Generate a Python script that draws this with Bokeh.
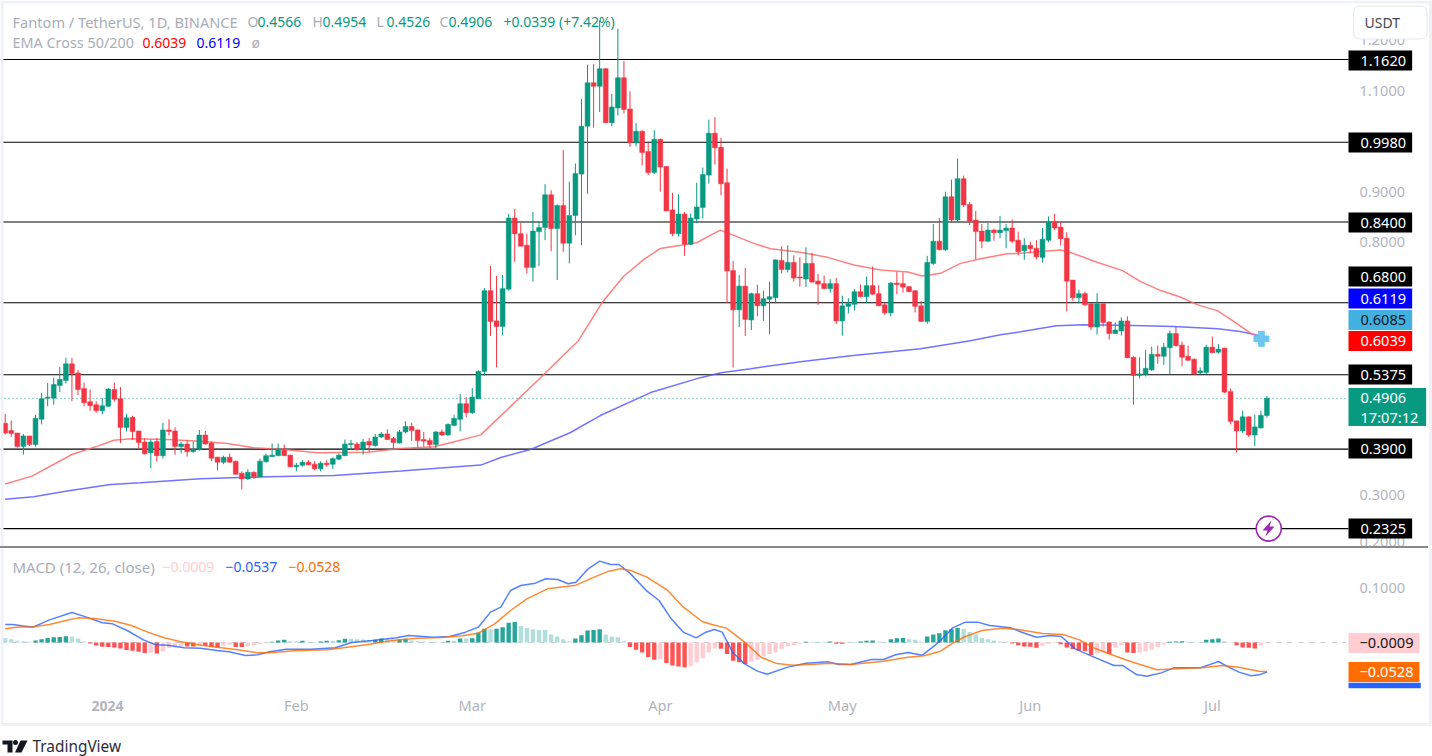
from bokeh.plotting import figure
from bokeh.layouts import column
from bokeh.models import (ColumnDataSource, FixedTicker, Label, NumeralTickFormatter,
                          Range1d, Spacer)
from bokeh.embed import file_html
from bokeh.resources import INLINE

opens = [.441,.427,.422,.395,.416,.399,.449,.491,.491,.516,
.526,.559,.541,.510,.484,.478,.466,.475,.508,.490,
.433,.453,.426,.404,.383,.405,.377,.428,.426,.395,
.400,.385,.389,.418,.402,.374,.364,.374,.366,.342,
.331,.344,.335,.365,.375,.377,.389,.378,.355,.358,
.364,.360,.351,.362,.360,.370,.377,.399,.400,.389,
.405,.397,.414,.420,.411,.402,.424,.435,.428,.409,
.407,.399,.424,.418,.437,.449,.480,.462,.490,.544,
.704,.644,.633,.707,.848,.817,.794,.750,.821,.829,
.894,.827,.873,.798,.853,.935,1.030,1.116,1.109,1.144,
1.037,1.066,1.126,1.064,.997,1.020,.980,.938,1.004,.950,
.864,.817,.856,.796,.846,.869,.933,1.016,.988,.918,
.744,.666,.713,.646,.698,.674,.687,.690,.764,.746,
.760,.731,.727,.758,.723,.718,.708,.718,.644,.673,
.677,.702,.692,.714,.698,.676,.660,.719,.718,.712,
.704,.674,.643,.758,.802,.785,.890,.844,.926,.875,
.844,.822,.802,.824,.819,.823,.828,.804,.783,.794,
.788,.770,.804,.839,.830,.808,.725,.690,.698,.678,
.632,.678,.642,.619,.624,.644,.572,.536,.538,.547,
.578,.574,.591,.619,.596,.574,.568,.541,.542,.592,
.582,.590,.504,.446,.426,.454,.418,.432,.4566]

highs = [.460,.447,.422,.420,.416,.458,.501,.521,.531,.553,
.571,.571,.547,.522,.508,.485,.491,.511,.522,.513,
.460,.456,.426,.412,.409,.412,.442,.449,.433,.404,
.408,.405,.428,.426,.405,.375,.377,.381,.367,.346,
.350,.346,.371,.381,.401,.401,.399,.379,.363,.368,
.368,.366,.366,.368,.373,.381,.409,.408,.404,.410,
.412,.420,.424,.429,.414,.428,.445,.442,.429,.424,
.412,.426,.429,.441,.458,.500,.493,.511,.546,.709,
.753,.733,.735,.856,.866,.838,.817,.860,.840,.915,
.903,.875,.983,.920,.956,1.084,1.152,1.153,1.240,1.145,
1.094,1.223,1.159,1.099,1.036,1.022,.997,1.022,1.005,.950,
.898,.895,.860,.857,.918,.948,1.043,1.048,1.007,.946,
.763,.735,.749,.700,.716,.704,.721,.766,.792,.794,
.774,.770,.790,.779,.737,.734,.727,.729,.694,.689,
.707,.716,.732,.752,.715,.680,.721,.741,.740,.713,
.705,.684,.773,.836,.848,.900,.924,.966,.932,.880,
.862,.836,.838,.827,.852,.836,.845,.821,.808,.801,
.804,.828,.851,.856,.840,.820,.725,.706,.702,.679,
.699,.678,.643,.641,.651,.653,.574,.572,.587,.593,
.595,.600,.625,.632,.603,.595,.570,.552,.597,.613,
.598,.591,.510,.446,.466,.455,.458,.466,.4954]

lows = [.419,.414,.393,.379,.396,.395,.439,.475,.478,.503,
.520,.485,.497,.475,.466,.462,.459,.473,.484,.402,
.425,.408,.392,.379,.352,.365,.371,.417,.379,.381,
.375,.383,.387,.399,.366,.348,.360,.363,.340,.310,
.329,.331,.335,.363,.374,.376,.376,.354,.346,.355,
.358,.348,.346,.355,.351,.368,.376,.388,.387,.379,
.385,.395,.412,.408,.389,.401,.421,.406,.393,.395,
.388,.389,.416,.416,.435,.425,.453,.460,.489,.535,
.614,.552,.616,.704,.761,.792,.738,.722,.753,.804,
.782,.725,.781,.758,.814,.794,.896,1.027,1.058,1.036,
1.030,1.051,1.055,.989,.990,.952,.933,.935,.900,.862,
.812,.811,.773,.794,.838,.847,.916,.954,.893,.680,
.552,.632,.614,.626,.653,.644,.618,.679,.738,.740,
.722,.712,.711,.720,.676,.707,.700,.638,.615,.659,
.665,.691,.679,.696,.674,.656,.653,.697,.700,.701,
.661,.642,.638,.755,.784,.783,.838,.838,.870,.834,
.766,.788,.801,.803,.808,.788,.798,.774,.765,.778,
.766,.760,.800,.824,.793,.663,.684,.679,.674,.626,
.617,.633,.607,.618,.615,.570,.478,.530,.534,.545,
.559,.557,.539,.593,.554,.565,.538,.539,.539,.580,
.579,.501,.439,.383,.422,.414,.396,.431,.4526]

closes = [.422,.421,.395,.416,.399,.451,.490,.493,.518,.528,
.559,.540,.508,.482,.476,.466,.476,.509,.489,.433,
.452,.425,.403,.381,.404,.377,.428,.425,.395,.400,
.385,.389,.418,.400,.372,.364,.374,.364,.340,.331,
.344,.335,.366,.377,.378,.389,.377,.355,.358,.364,
.359,.351,.362,.359,.371,.378,.400,.401,.389,.404,
.398,.414,.420,.409,.403,.424,.435,.427,.407,.406,
.399,.424,.418,.439,.451,.480,.462,.493,.544,.704,
.643,.633,.708,.848,.817,.792,.750,.822,.829,.894,
.827,.873,.798,.853,.936,1.030,1.116,1.109,1.144,1.037,
1.068,1.126,1.063,.997,1.020,.978,.938,1.004,.949,.862,
.817,.856,.796,.848,.870,.934,1.016,.987,.916,.743,
.666,.713,.647,.698,.674,.688,.692,.765,.746,.760,
.729,.729,.758,.721,.717,.708,.718,.644,.674,.678,
.702,.692,.714,.697,.674,.660,.719,.716,.711,.702,
.673,.643,.760,.802,.785,.890,.844,.926,.874,.842,
.821,.802,.824,.819,.824,.828,.802,.781,.794,.787,
.771,.806,.839,.828,.807,.723,.690,.698,.676,.632,
.678,.641,.619,.626,.644,.571,.536,.539,.550,.578,
.574,.592,.619,.595,.572,.566,.539,.545,.592,.581,
.588,.503,.445,.426,.454,.418,.434,.457,.4906]

ema50_day = [0,4.4,11,14.9,17.9,20.7,26.7,32.2,36.6,41,45.9,51.5,59.7,65.2,70.7,73.4,78.4,87.9,93.2,94.4,
98.5,102,105.3,108,111.9,114,116.3,117.9,120,123.4,126.2,131.1,135.6,139.9,144.3,148.8,151.2,154.2,157.5,
160.8,165.2,167.3,170.2,174,175.6,180,184.2,187.2,190.5,193.8,196.6,199.9,202.5,205.3,208]
ema50 = [.321,.3365,.3793,.3945,.4077,.4103,.4090,.4057,.4011,.3925,.3892,.3826,.3840,.3912,.3945,.4024,.4182,.5274,.5900,.6032,
.6822,.7330,.7659,.7877,.7949,.7989,.8140,.8239,.8140,.7977,.7871,.7799,.7700,.7548,.7450,.7410,.7331,.7384,.7581,
.7674,.7773,.7779,.7813,.7846,.7799,.7602,.7437,.7219,.7042,.6910,.6758,.6640,.6429,.6198,.6039]

ema200_day = [0,4.7,10.2,17.4,22.3,32.2,43.2,54.2,65.2,78.4,81.7,86.6,93.2,98.1,106.4,114.6,118,122.9,131.1,139.4,147.6,
150.9,159.1,164.1,167.4,173.3,177.8,186,192.6,199.9,203.6,208]
ema200 = [.2904,.2956,.3069,.3200,.3233,.3312,.3352,.3378,.3464,.3583,.3735,.3893,.4229,.4565,.5020,.5316,.5415,.5494,.5632,.5751,.5850,
.5889,.6047,.6166,.6225,.6344,.6364,.6350,.6330,.6285,.6231,.6119]

macd_day = [0,1.2,4.6,7.3,11,13.4,16,17.7,20.1,22.8,24.8,26.8,29.5,32.2,34.9,36.9,39.6,41.6,43.6,46.3,50.4,54.4,57.1,60.5,64.5,66.5,
70.6,73.3,75.9,78,80,81.7,83.3,85,87.4,89.1,91.1,92.8,94.1,96.1,98,99.8,101.2,103.1,105.8,107.8,109.8,111.8,113.9,115.5,116.9,118.2,
119.9,121.9,124,125.6,129,132,135.7,137.4,139.4,142.8,144.8,146.8,148.8,151.2,152.9,154.2,156.2,158.3,160.3,162.3,165.7,167.7,170,
172.4,174.1,176.4,179.1,182.8,184.2,186.5,188.2,190.6,192.6,197,200,201.7,203.4,205.4,206.7,208]
macd = [.0327,.0327,.0279,.0412,.0545,.0461,.0358,.0339,.0218,.0048,-.0042,-.0048,-.0097,-.0103,-.0145,-.0170,-.0236,-.0224,-.0170,-.0121,-.0121,-.0097,0,.0036,.0085,.0127,
.0097,.0109,.0188,.0279,.0552,.0642,.0945,.1036,.1079,.1158,.1145,.1067,.1097,.1339,.1479,.1418,.1418,.1248,.0933,.0764,.043,.0188,.0085,.0188,.0236,.0188,
-.0176,-.0388,-.0521,-.0576,-.0448,-.0376,-.0352,-.04,-.04,-.0309,-.0309,-.0224,-.0182,-.023,-.0085,.0036,.0267,.037,.037,.0309,.0267,.0182,.0097,
.0127,.0109,-.0115,-.0248,-.0418,-.0418,-.0582,-.0612,-.0552,-.0461,-.0461,-.0345,-.0448,-.0539,-.0606,-.0588,-.0537]

signal_day = [0,1.9,4.6,7.3,10,12,14.7,18.1,20.8,23.5,26.2,28.8,31.5,34.9,38.3,41.6,44.3,47.7,53.1,56.4,59.8,63.8,67.9,71.9,75.3,78,80.7,
83.3,86,89.4,94.1,96.8,99.5,101.5,103.1,105.8,109.1,111.8,114.9,116.5,118.9,121.9,124.6,127,129.7,132.7,136,139.4,144.8,148.8,151.5,
154.2,156.2,158.3,161,164.3,167,171,174.4,177.1,179.8,183.2,185.9,189.9,193.3,197.3,200.7,203.4,206.7,208]
signal = [.0248,.0279,.0285,.0327,.04,.0448,.0436,.0388,.0309,.0188,.0085,.0018,-.0036,-.0085,-.0133,-.0188,-.0182,-.0152,-.0133,-.0085,-.0036,.0036,.0079,.0091,.0121,.017,.0339,
.0582,.0794,.0976,.1042,.1176,.1297,.1339,.1309,.1188,.0958,.0642,.0382,.0327,.0261,.0006,-.0267,-.0376,-.0412,-.04,-.0376,-.04,-.0339,-.0267,-.0242,
-.0158,-.0012,.0109,.0218,.0261,.0236,.0164,.0145,.0048,-.0115,-.0255,-.0358,-.0497,-.0479,-.0461,-.0418,-.0448,-.0521,-.0528]

hist_e4 = [84,60,30,24,12,36,60,84,96,102,114,108,72,18,-18,-54,-78,-84,-90,-108,
-138,-150,-168,-192,-186,-198,-162,-102,-90,-72,-72,-72,-60,-60,-84,-90,-48,-42,-84,-84,
-72,-48,-30,-12,12,36,48,24,24,30,12,6,18,30,30,42,66,66,60,54,
42,48,72,60,54,60,66,36,24,18,12,12,6,30,30,72,72,78,180,252,
240,252,276,360,372,300,264,240,228,228,144,108,60,24,72,132,216,228,240,144,
108,96,24,-84,-132,-180,-264,-312,-300,-372,-420,-438,-450,-432,-360,-288,-180,-108,-114,-210,
-330,-360,-390,-348,-312,-252,-210,-180,-120,-72,-48,-24,12,12,12,12,18,-24,-24,-6,
6,18,30,36,18,6,60,78,84,60,48,18,108,144,168,222,240,264,252,192,
150,84,60,36,18,12,-18,-48,-72,-78,-96,-60,-24,-12,-30,-90,-120,-150,-156,-228,
-198,-180,-210,-90,-48,-180,-192,-180,-162,-132,-84,-36,12,18,24,12,12,6,48,60,
72,24,6,-48,-90,-96,-108,-60,-9]
hist = [v / 10000 for v in hist_e4]

levels = [1.1620, 0.9980, 0.8400, 0.6800, 0.5375, 0.3900, 0.2325]
last_price = 0.4906
cross_value = 0.6085
price_ticks = [1.2, 1.1, 0.9, 0.8, 0.3, 0.2]
macd_ticks = [0.1]
month_days = [48, 77, 108, 138, 169, 199]
month_names = ["Feb", "Mar", "Apr", "May", "Jun", "Jul"]

days = list(range(len(closes)))
assert len(opens) == len(highs) == len(lows) == len(closes) == 209

GREEN, RED = "#089981", "#f23645"
AXIS = "#b2b5be"
LEG = "#a9adb8"
EDGE = "#eff1f6"
FONT = "Noto Sans"
TAG = "14.6px"

cols = [GREEN if c >= o else RED for o, c in zip(opens, closes)]
candles = ColumnDataSource(dict(x=days, o=opens, h=highs, l=lows, c=closes, col=cols))

W = 1432
H1 = 546
SEP = 2
H2 = 756 - H1 - SEP


def X(px):
    return (px - 4.7) / 6.066


def Y1(py):
    return (645.4 - py) / 504.6


def Y2(py):
    return (642 - py) / 550


x_range = Range1d(X(0), X(W))
X_END = X(1345)


def style_axis(a):
    a.axis_line_color = None
    a.major_tick_line_color = None
    a.minor_tick_line_color = None
    a.major_label_text_color = AXIS
    a.major_label_text_font = FONT
    a.major_label_text_font_size = TAG


def put(fig, bottom, x, y, text, color, size="14px", bg=None, padding=0, style="normal", align="left", border=None, radius=0):
    lab = Label(x=x, y=bottom - y, x_units="screen", y_units="screen", text=text, text_color=color,
                text_font=FONT, text_font_size=size, text_font_style=style, text_baseline="middle", text_align=align,
                background_fill_color=bg, padding=padding, border_line_color=border, border_radius=radius)
    fig.add_layout(lab)
    return lab


# ---------- price pane ----------
p1 = figure(width=W, height=H1, output_backend="svg", toolbar_location=None,
            x_range=x_range, y_range=Range1d(Y1(H1), Y1(0)),
            x_axis_location=None, y_axis_location="right",
            min_border=0, outline_line_color=None, background_fill_color="white", border_fill_color="white")
p1.grid.visible = False
ax = p1.yaxis[0]
ax.fixed_location = X_END
ax.ticker = FixedTicker(ticks=price_ticks)
ax.formatter = NumeralTickFormatter(format="0.0000")
style_axis(ax)
ax.major_label_standoff = 8

p1.segment(x0=[X(0)] * len(levels), x1=[X(1348)] * len(levels), y0=levels, y1=levels, line_color="#000000", line_width=1.1)
p1.segment(x0=[X(0)], x1=[X(1348)], y0=[last_price], y1=[last_price], line_color=GREEN, line_width=1, line_dash="1 3")

p1.line(ema200_day, ema200, line_color="#5a5aff", line_alpha=0.85, line_width=1.5)
p1.line(ema50_day, ema50, line_color="#ff6a6a", line_alpha=0.85, line_width=1.5)
p1.segment(x0="x", x1="x", y0="l", y1="h", line_color="col", line_width=1, source=candles)
p1.vbar(x="x", top="o", bottom="c", width=0.8, fill_color="col", line_color="col", line_width=0.5, source=candles)

p1.scatter([207.1], [cross_value], marker="plus", size=15, fill_color="#6ec6ee", line_color="#6ec6ee")
p1.scatter([208.3], [levels[-1]], marker="circle", size=25, fill_color="white", line_color="#9c27b0", line_width=1.6)
bolt_x = [1271, 1262, 1267, 1265, 1274, 1269]
bolt_y = [520, 530, 530, 536, 526, 526]
p1.patch([X(v) for v in bolt_x], [Y1(v) for v in bolt_y], fill_color="#9c27b0", line_color=None)

# frame edges of the page
p1.segment(x0=[X(1.5), X(1430)], x1=[X(1.5), X(1430)], y0=[Y1(0)] * 2, y1=[Y1(H1)] * 2, line_color=EDGE, line_width=3)
p1.segment(x0=[X(0)], x1=[X(W)], y0=[Y1(1.5)], y1=[Y1(1.5)], line_color=EDGE, line_width=3)

for x, t, c, s in [(12, "Fantom / TetherUS, 1D, BINANCE", LEG, "14.6px"), (247, "O", LEG, "14px"), (257, "0.4566", GREEN, "14px"),
                   (312, "H", LEG, "14px"), (322, "0.4954", GREEN, "14px"), (376, "L", LEG, "14px"), (386, "0.4526", GREEN, "14px"),
                   (439, "C", LEG, "14px"), (448, "0.4906", GREEN, "14px"), (503, "+0.0339 (+7.42%)", GREEN, "14px")]:
    put(p1, H1, x, 21, t, c, size=s)
for x, t, c, s in [(12, "EMA Cross 50/200", LEG, "14.4px"), (142, "0.6039", "#ff0000", "14px"), (196, "0.6119", "#0000ff", "14px"), (251, "ø", LEG, "14px")]:
    put(p1, H1, x, 42, t, c, size=s)

tag_pad = (12, 6, 5, 5)
for y, t, bg, fg in [(60, "1.1620", "#000000", "#ffffff"), (142, "0.9980", "#000000", "#ffffff"),
                     (222, "0.8400", "#000000", "#ffffff"), (276, "0.6800", "#000000", "#ffffff"),
                     (298, "0.6119", "#0000ff", "#ffffff"), (319.5, "0.6085", "#42b1e0", "#131722"),
                     (340.5, "0.6039", "#ff0000", "#ffffff"), (374, "0.5375", "#000000", "#ffffff"),
                     (448, "0.3900", "#000000", "#ffffff"), (528, "0.2325", "#000000", "#ffffff")]:
    put(p1, H1, 1348, y, t, fg, size=TAG, bg=bg, padding=tag_pad)
put(p1, H1, 1348, 406.5, "0.4906", "#ffffff", size=TAG, bg=GREEN, padding=(12, 20, 5, 23))
put(p1, H1, 1360, 416, "17:07:12", "#ffffff", size=TAG)
put(p1, H1, 1353, 22, "USDT", "#434651", bg="#ffffff", padding=(11, 27, 7, 7), border="#e6e8ef", radius=6)

# ---------- separator ----------
sep = Spacer(width=1428, height=SEP, styles={"background-color": "#8a8a8a"})

# ---------- MACD pane ----------
p2 = figure(width=W, height=H2, output_backend="svg", toolbar_location=None,
            x_range=x_range, y_range=Range1d(Y2(756), Y2(H1 + SEP)), y_axis_location="right",
            min_border=0, outline_line_color=None, background_fill_color="white", border_fill_color="white")
p2.grid.visible = False
ay = p2.yaxis[0]
ay.fixed_location = X_END
ay.ticker = FixedTicker(ticks=macd_ticks)
ay.formatter = NumeralTickFormatter(format="0.0000")
style_axis(ay)
ay.major_label_standoff = 8
ax2 = p2.xaxis[0]
ax2.fixed_location = Y2(681)
ax2.ticker = FixedTicker(ticks=month_days)
ax2.major_label_overrides = dict(zip(month_days, month_names))
style_axis(ax2)
ax2.major_label_standoff = 7

p2.segment(x0=[X(0)], x1=[X_END], y0=[0], y1=[0], line_color="#c9cbd2", line_width=1, line_dash="5 6")

hist_cols = []
for i, h in enumerate(hist):
    prev = hist[i - 1] if i else h
    if h >= 0:
        hist_cols.append("#26a69a" if prev < h else "#b2dfdb")
    else:
        hist_cols.append("#ffcdd2" if prev < h else "#ff5252")
p2.vbar(x=list(range(len(hist))), top=hist, bottom=0, width=0.72, fill_color=hist_cols, line_color=None)
p2.line(macd_day, macd, line_color="#2962ff", line_alpha=0.8, line_width=1.5)
p2.line(signal_day, signal, line_color="#ff6d00", line_alpha=0.8, line_width=1.5)

p2.segment(x0=[X(1.5), X(1430)], x1=[X(1.5), X(1430)], y0=[Y2(H1)] * 2, y1=[Y2(724)] * 2, line_color=EDGE, line_width=3)
p2.segment(x0=[X(0)], x1=[X(W)], y0=[Y2(724)], y1=[Y2(724)], line_color=EDGE, line_width=3)

for x, t, c, s in [(12, "MACD (12, 26, close)", LEG, "15px"), (162, "\u22120.0009", "#ffcdd2", "14px"),
                   (225, "\u22120.0537", "#2962ff", "14px"), (288, "\u22120.0528", "#ff6d00", "14px")]:
    put(p2, 756, x, 566, t, c, size=s)
put(p2, 756, 1348, 685, "\u00a0", "#2962ff", size="1px", bg="#2962ff", padding=(36, 36, 2, 2))
put(p2, 756, 1348, 671.5, "\u22120.0528", "#ffffff", size=TAG, bg="#ff6d00", padding=(11, 6, 5, 5))
put(p2, 756, 1348, 642.5, "\u22120.0009", "#131722", size=TAG, bg="#ffcdd2", padding=(11, 6, 5, 5))
put(p2, 756, 107, 705, "2024", AXIS, style="bold", align="center")

# footer brand
p2.patches([[X(2), X(12), X(12), X(7), X(7), X(2)], [X(20), X(27), X(21), X(14.5)]],
           [[Y2(740), Y2(740), Y2(752), Y2(752), Y2(744), Y2(744)], [Y2(740), Y2(740), Y2(752), Y2(752)]],
           fill_color="#131722", line_color=None)
p2.scatter([X(15)], [Y2(742)], marker="circle", size=5, fill_color="#131722", line_color=None)
put(p2, 756, 32, 746, "TradingView", "#2a2e39", size="15.4px")

page = column(p1, sep, p2, spacing=0)
open("out.html", "w").write(file_html(page, INLINE))
